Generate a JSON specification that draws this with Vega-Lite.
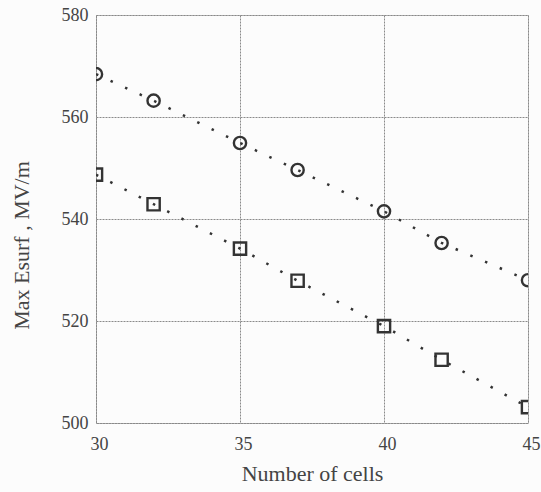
{
  "$schema": "https://vega.github.io/schema/vega-lite/v6.json",
  "autosize": "none",
  "width": 432,
  "height": 408,
  "padding": {"left": 96, "top": 15, "right": 13, "bottom": 69},
  "background": "#fcfcfc",
  "config": {
    "font": "Liberation Serif",
    "view": {"stroke": "#8a8a8a", "strokeWidth": 1, "strokeDash": [2, 1]},
    "axis": {
      "domain": false,
      "ticks": false,
      "grid": true,
      "gridColor": "#8a8a8a",
      "gridDash": [2, 1],
      "gridWidth": 1,
      "gridOpacity": 1,
      "labelFlush": false,
      "labelFont": "Liberation Serif",
      "labelFontSize": 18,
      "labelColor": "#444444",
      "titleFont": "Liberation Serif",
      "titleFontSize": 22,
      "titleFontWeight": "normal",
      "titleColor": "#444444"
    }
  },
  "data": {
    "values": [
      {"cells": 30, "value": 568.4, "series": "circles"},
      {"cells": 32, "value": 563.2, "series": "circles"},
      {"cells": 35, "value": 554.9, "series": "circles"},
      {"cells": 37, "value": 549.6, "series": "circles"},
      {"cells": 40, "value": 541.5, "series": "circles"},
      {"cells": 42, "value": 535.3, "series": "circles"},
      {"cells": 45, "value": 528.0, "series": "circles"},
      {"cells": 30, "value": 548.7, "series": "squares"},
      {"cells": 32, "value": 542.9, "series": "squares"},
      {"cells": 35, "value": 534.2, "series": "squares"},
      {"cells": 37, "value": 527.9, "series": "squares"},
      {"cells": 40, "value": 519.0, "series": "squares"},
      {"cells": 42, "value": 512.4, "series": "squares"},
      {"cells": 45, "value": 503.1, "series": "squares"}
    ]
  },
  "encoding": {
    "x": {
      "field": "cells",
      "type": "quantitative",
      "scale": {"domain": [30, 45], "nice": false, "zero": false},
      "axis": {"values": [30, 35, 40, 45], "title": "Number of cells", "labelPadding": 12, "titlePadding": 10, "labelOffset": 3}
    },
    "y": {
      "field": "value",
      "type": "quantitative",
      "scale": {"domain": [500, 580], "nice": false, "zero": false},
      "axis": {"values": [500, 520, 540, 560, 580], "title": "Max Esurf , MV/m", "labelPadding": 8, "titlePadding": 28, "titleY": 230}
    }
  },
  "layer": [
    {
      "mark": {"type": "line", "clip": true, "color": "#333333", "strokeWidth": 2.5, "strokeDash": [2.5, 13.5], "strokeCap": "butt"},
      "encoding": {"detail": {"field": "series", "type": "nominal"}}
    },
    {
      "mark": {"type": "point", "clip": true, "filled": false, "color": "#333333", "strokeWidth": 2.4, "opacity": 1},
      "encoding": {
        "shape": {"field": "series", "type": "nominal", "scale": {"domain": ["circles", "squares"], "range": ["circle", "square"]}, "legend": null},
        "size": {"value": 150}
      }
    }
  ]
}
